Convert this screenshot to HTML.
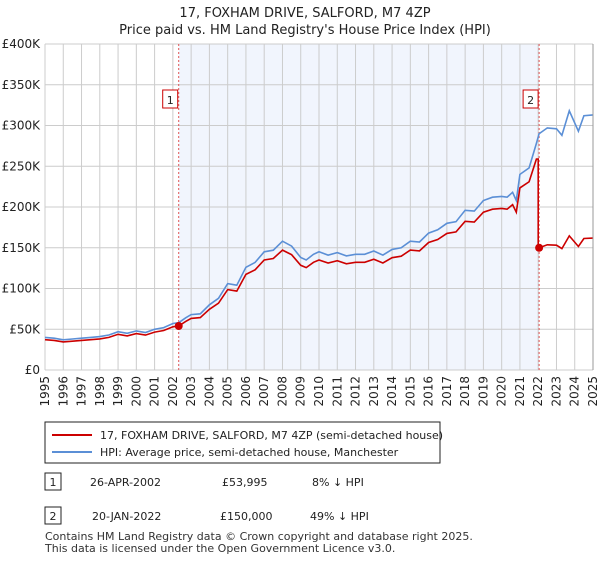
<!DOCTYPE html>
<html><head><meta charset="utf-8"><style>
body{margin:0;background:#fff;font-family:"DejaVu Sans","Liberation Sans",sans-serif;}
svg text{font-family:"DejaVu Sans","Liberation Sans",sans-serif;}
</style></head><body>
<svg id="c" width="600" height="560" xmlns="http://www.w3.org/2000/svg">
<text x="305" y="17" text-anchor="middle" font-size="13" fill="#222">17, FOXHAM DRIVE, SALFORD, M7 4ZP</text>
<text x="305" y="34" text-anchor="middle" font-size="13" fill="#222">Price paid vs. HM Land Registry's House Price Index (HPI)</text>
<g id="plot"></g>
<rect x="45" y="422" width="395" height="41" fill="#fff" stroke="#222"/>
<line x1="52" y1="435" x2="92" y2="435" stroke="#cc0000" stroke-width="2"/>
<text x="100" y="439" font-size="11" fill="#222">17, FOXHAM DRIVE, SALFORD, M7 4ZP (semi-detached house)</text>
<line x1="52" y1="452" x2="92" y2="452" stroke="#5b8fd6" stroke-width="2"/>
<text x="100" y="456" font-size="11" fill="#222">HPI: Average price, semi-detached house, Manchester</text>
<rect x="45" y="473" width="16" height="17" fill="#fff" stroke="#222"/>
<text x="53" y="486" font-size="11" text-anchor="middle" fill="#222">1</text>
<text x="90" y="486" font-size="11" fill="#222">26-APR-2002</text>
<text x="222" y="486" font-size="11" fill="#222">£53,995</text>
<text x="312" y="486" font-size="11" fill="#222">8% ↓ HPI</text>
<rect x="45" y="507" width="16" height="17" fill="#fff" stroke="#222"/>
<text x="53" y="520" font-size="11" text-anchor="middle" fill="#222">2</text>
<text x="92" y="520" font-size="11" fill="#222">20-JAN-2022</text>
<text x="220" y="520" font-size="11" fill="#222">£150,000</text>
<text x="310" y="520" font-size="11" fill="#222">49% ↓ HPI</text>
<text x="45" y="540" font-size="11" fill="#333">Contains HM Land Registry data © Crown copyright and database right 2025.</text>
<text x="45" y="552" font-size="11" fill="#333">This data is licensed under the Open Government Licence v3.0.</text>
</svg>
<script>
const hpiYears=[1995,1995.5,1996,1996.5,1997,1997.5,1998,1998.5,1999,1999.5,2000,2000.5,2001,2001.5,2002,2002.32,2002.7,2003,2003.5,2004,2004.5,2005,2005.5,2006,2006.5,2007,2007.5,2008,2008.5,2009,2009.3,2009.7,2010,2010.5,2011,2011.5,2012,2012.5,2013,2013.5,2014,2014.5,2015,2015.5,2016,2016.5,2017,2017.5,2018,2018.5,2019,2019.5,2020,2020.3,2020.6,2020.8,2021,2021.5,2021.9,2022.05,2022.5,2023,2023.3,2023.7,2024.2,2024.5,2025];
const hpiValues=[40,39,37,38,39,40,41,43,47,45,48,46,50,52,57,58,64,68,69,80,88,106,104,126,132,145,147,158,152,138,135,142,145,141,144,140,142,142,146,141,148,150,158,157,168,172,180,182,196,195,208,212,213,212,218,208,240,248,278,290,297,296,288,318,293,312,313];
const saleYears=[2002.32,2022.05];
const salePrices=[53995,150000];
const yTicks=[0,50,100,150,200,250,300,350,400];
const yTickLabels=["£0","£50K","£100K","£150K","£200K","£250K","£300K","£350K","£400K"];
const xTicks=[1995,1996,1997,1998,1999,2000,2001,2002,2003,2004,2005,2006,2007,2008,2009,2010,2011,2012,2013,2014,2015,2016,2017,2018,2019,2020,2021,2022,2023,2024,2025];

const NS="http://www.w3.org/2000/svg";
const X0=45,X1=593,Y0=370,Y1=44;
const xs=y=>X0+(y-1995)/(2025-1995)*(X1-X0);
const ys=v=>Y0-v/400*(Y0-Y1);
const g=document.getElementById('plot');
function mk(t,a){const e=document.createElementNS(NS,t);for(const k in a)e.setAttribute(k,a[k]);g.appendChild(e);return e;}
function hpiAt(t){for(let i=0;i<hpiYears.length-1;i++){if(t>=hpiYears[i]&&t<=hpiYears[i+1]){const f=(t-hpiYears[i])/(hpiYears[i+1]-hpiYears[i]);return hpiValues[i]+f*(hpiValues[i+1]-hpiValues[i]);}}return hpiValues[hpiValues.length-1];}
let r=mk('rect',{x:xs(saleYears[0]),y:Y1,width:xs(saleYears[1])-xs(saleYears[0]),height:Y0-Y1,fill:'#eef3fc',opacity:'0.8'});


xTicks.forEach(t=>{
 let l=mk('line',{x1:xs(t),x2:xs(t),y1:Y1,y2:Y0,stroke:'#cccccc','stroke-width':1});
 
 
 let tx=mk('text',{x:0,y:0,'font-size':12,fill:'#222','text-anchor':'end',transform:`translate(${xs(t)+4},${Y0+6}) rotate(-90)`});
 tx.textContent=t;
 
 
});
yTicks.forEach((t,i)=>{
 let l=mk('line',{x1:X0,x2:X1,y1:ys(t),y2:ys(t),stroke:'#cccccc','stroke-width':1});
 
 
 let tx=mk('text',{x:40,y:ys(t)+4,'font-size':12,fill:'#222','text-anchor':'end'});
 tx.textContent=yTickLabels[i];
 
 
});
saleYears.forEach((s,i)=>{
 let l=mk('line',{x1:xs(s),x2:xs(s),y1:Y1,y2:Y0,stroke:'#e05555','stroke-width':1,'stroke-dasharray':'2,2'});
 
 
 let b=mk('rect',{x:xs(s)-16,y:90,width:15,height:18,fill:'#fff',stroke:'#cc0000'});
 
 
 let tx=mk('text',{x:xs(s)-8.5,y:104,'font-size':11,fill:'#222','text-anchor':'middle'});
 tx.textContent=String(i+1);
 
 
});
let d=hpiYears.map((t,i)=>(i?'L':'M')+xs(t).toFixed(1)+','+ys(hpiValues[i]).toFixed(1)).join('');
let hp=mk('path',{d:d,fill:'none',stroke:'#5b8fd6','stroke-width':1.6});


const k1=salePrices[0]/1000/hpiAt(saleYears[0]),k2=salePrices[1]/1000/hpiAt(saleYears[1]);
let pts=[];
hpiYears.forEach((t,i)=>{if(t<saleYears[1])pts.push([t,hpiValues[i]*k1]);});
pts.push([saleYears[1]-0.05,pts[pts.length-1][1]]);
pts.push([saleYears[1]-0.05,salePrices[1]/1000]);
pts.push([saleYears[1],salePrices[1]/1000]);
hpiYears.forEach((t,i)=>{if(t>saleYears[1])pts.push([t,hpiValues[i]*k2]);});
let pd=pts.map((p,i)=>(i?'L':'M')+xs(p[0]).toFixed(1)+','+ys(p[1]).toFixed(1)).join('');
let pp=mk('path',{d:pd,fill:'none',stroke:'#cc0000','stroke-width':1.6});


saleYears.forEach((s,i)=>{
 let c=mk('circle',{cx:xs(s),cy:ys(salePrices[i]/1000),r:4,fill:'#cc0000'});
 
 
});
let ax=mk('line',{x1:X1,x2:X1,y1:Y1,y2:Y0,stroke:'#999','stroke-width':1});


</script>
</body></html>
